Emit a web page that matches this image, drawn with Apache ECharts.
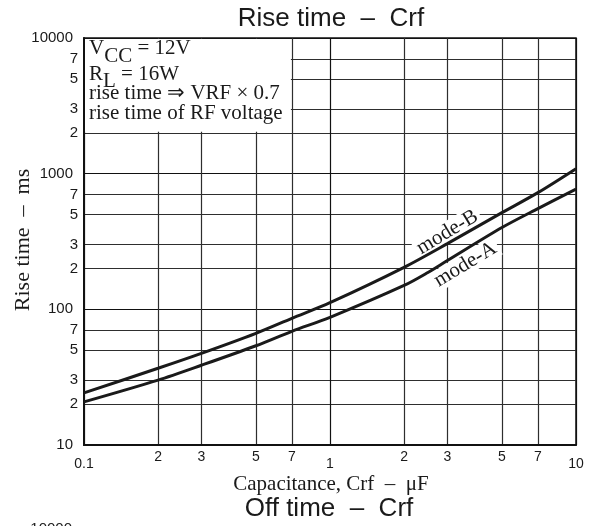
<!DOCTYPE html>
<html><head><meta charset="utf-8">
<script src="https://cdn.jsdelivr.net/npm/echarts@6/dist/echarts.min.js"></script>
<style>html,body{margin:0;padding:0;background:#fff}#c{width:595px;height:526px}</style>
</head><body><div id="c"></div>
<script>
// ---- data ----
const capB = [0.1, 0.2, 0.3, 0.5, 0.7, 1, 2, 3, 5, 7, 10];
const modeB = [24.2, 36.8, 47.4, 66.6, 85.9, 112, 204, 305, 516, 725, 1089];
const capA = [0.1, 0.2, 0.3, 0.5, 0.7, 1, 2, 2.5, 3, 5, 7, 10];
const modeA = [20.8, 30.1, 38.7, 53.9, 68.9, 87.3, 150, 187, 229, 401, 553, 769];
const xTickValues = [0.1, 0.2, 0.3, 0.5, 0.7, 1, 2, 3, 5, 7, 10];
const xTickLabels = ['0.1', '2', '3', '5', '7', '1', '2', '3', '5', '7', '10'];
const xMajor = [0.1, 1, 10];
const yTickValues = [10, 20, 30, 50, 70, 100, 200, 300, 500, 700, 1000, 2000, 3000, 5000, 7000, 10000];
const yTickLabels = ['10', '2', '3', '5', '7', '100', '2', '3', '5', '7', '1000', '2', '3', '5', '7', '10000'];
const yMajor = [10, 100, 1000, 10000];
const seriesNames = ['mode-B', 'mode-A'];

const SANS = 'Liberation Sans', SERIF = 'Liberation Serif';
const same = (a, b) => Math.abs(Math.log10(a) - Math.log10(b)) < 1e-6;
function fmt(vals, labels, majors) {
  return function (v) {
    const i = vals.findIndex(t => same(t, v));
    if (i < 0) return '';
    const isMaj = majors.some(m => same(m, v));
    return '{' + (isMaj ? 'maj' : 'min') + '|' + labels[i] + '}';
  };
}
const gridColors = ['#111', '#2e2e2e', '#2e2e2e', '#2e2e2e', '#2e2e2e'];
const lbl = { fontSize: 14, fontFamily: SANS, color: '#1a1a1a' };

const chart = echarts.init(document.getElementById('c'), null, { renderer: 'canvas' });
chart.setOption({
  animation: false,
  backgroundColor: '#fff',
  grid: { left: 84, top: 38, width: 492, height: 407, show: true, borderColor: '#111', borderWidth: 1.5, backgroundColor: 'transparent' },
  xAxis: {
    type: 'log', logBase: 10, min: 0.1, max: 10,
    axisLine: { show: true, lineStyle: { color: '#111', width: 2 } },
    axisTick: { show: false, customValues: xTickValues },
    splitLine: { show: true, lineStyle: { color: gridColors, width: 1.2 } },
    axisLabel: {
      customValues: xTickValues, margin: 5, formatter: fmt(xTickValues, xTickLabels, xMajor),
      rich: { maj: Object.assign({ padding: [7, 0, 0, 0] }, lbl), min: Object.assign({}, lbl) }
    }
  },
  yAxis: {
    type: 'log', logBase: 10, min: 10, max: 10000,
    axisLine: { show: true, lineStyle: { color: '#111', width: 2 } },
    axisTick: { show: false, customValues: yTickValues },
    splitLine: { show: true, lineStyle: { color: gridColors, width: 1.2 } },
    axisLabel: {
      customValues: yTickValues, margin: 6, formatter: fmt(yTickValues, yTickLabels, yMajor),
      rich: { maj: Object.assign({ padding: [0, 5, 0, 0] }, lbl, { fontSize: 15 }), min: Object.assign({}, lbl, { fontSize: 15 }) }
    }
  },
  series: [
    { name: seriesNames[0], type: 'line', data: capB.map((c, i) => [c, modeB[i]]), smooth: 0.3, symbol: 'none',
      lineStyle: { color: '#1a1a1a', width: 3 }, z: 3 },
    { name: seriesNames[1], type: 'line', data: capA.map((c, i) => [c, modeA[i]]), smooth: 0.3, symbol: 'none',
      lineStyle: { color: '#1a1a1a', width: 3 }, z: 3 }
  ]
});

// ---- annotations (layout) ----
const px = p => chart.convertToPixel({ gridIndex: 0 }, p);
const FS = 21;
const ctx = document.createElement('canvas').getContext('2d');
ctx.font = FS + 'px "' + SERIF + '"';
const w = s => ctx.measureText(s).width;

const tl = px([0.1, 10000]);
const br = px([0.7, 2000]);
const x0 = tl[0] + 5;
const serif = (text, x, y, extra) => ({
  type: 'text', z: 5, x: x, y: y,
  style: Object.assign({ text: text, font: FS + 'px "' + SERIF + '"', fill: '#1a1a1a', align: 'left', verticalAlign: 'middle' }, extra || {})
});
const bPos = px([3.0, 370]);
const aPos = px([3.55, 214]);
const rot = 31 * Math.PI / 180;

chart.setOption({
  graphic: [
    { type: 'rect', z: 4, shape: { x: tl[0] + 1, y: tl[1] + 1, width: br[0] - tl[0] - 2, height: br[1] - tl[1] - 2 }, style: { fill: '#fff' } },
    serif('V', x0, 48),
    serif('CC', x0 + w('V'), 56.5),
    serif(' = 12V', x0 + w('VCC'), 48),
    serif('R', x0, 74),
    serif('L', x0 + w('R'), 81),
    serif(' = 16W', x0 + w('RL'), 74),
    serif('rise time \u21D2 VRF \u00D7 0.7', x0, 93),
    serif('rise time of RF voltage', x0, 113),
    { type: 'text', z: 1, x: bPos[0], y: bPos[1], rotation: rot,
      style: { text: seriesNames[0], font: '21px "' + SERIF + '"', fill: '#1a1a1a', align: 'center', verticalAlign: 'middle', backgroundColor: '#fff', padding: [0, 3] } },
    { type: 'text', z: 1, x: aPos[0], y: aPos[1], rotation: rot,
      style: { text: seriesNames[1], font: '21px "' + SERIF + '"', fill: '#1a1a1a', align: 'center', verticalAlign: 'middle', backgroundColor: '#fff', padding: [0, 3] } },
    { type: 'text', z: 5, x: 331, y: 19,
      style: { text: 'Rise time  \u2013  Crf', font: '26px "' + SANS + '"', fill: '#1a1a1a', align: 'center', verticalAlign: 'middle' } },
    { type: 'text', z: 5, x: 23, y: 240, rotation: Math.PI / 2,
      style: { text: 'Rise time  \u2013  ms', font: '22px "' + SERIF + '"', fill: '#1a1a1a', align: 'center', verticalAlign: 'middle' } },
    { type: 'text', z: 5, x: 331, y: 484,
      style: { text: 'Capacitance, Crf  \u2013  \u03BCF', font: '21px "' + SERIF + '"', fill: '#1a1a1a', align: 'center', verticalAlign: 'middle' } },
    { type: 'text', z: 5, x: 329, y: 509,
      style: { text: 'Off time  \u2013  Crf', font: '26px "' + SANS + '"', fill: '#1a1a1a', align: 'center', verticalAlign: 'middle' } },
    { type: 'text', z: 5, x: 72, y: 529,
      style: { text: '10000', font: '15px "' + SANS + '"', fill: '#222', align: 'right', verticalAlign: 'middle' } }
  ]
});
</script></body></html>
